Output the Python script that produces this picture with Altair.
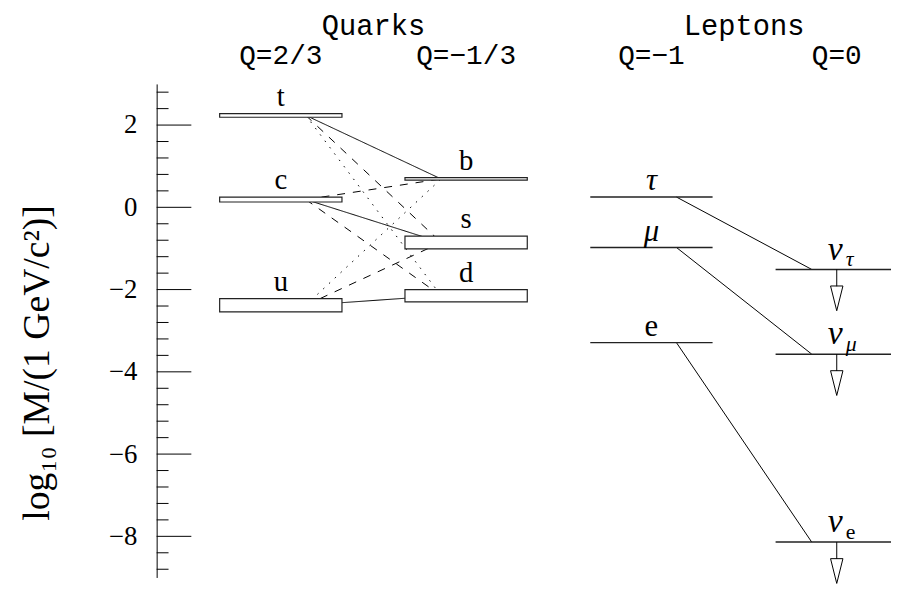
import altair as alt
import pandas as pd

# ---------------- data ----------------
quark_names = ["u", "c", "t", "d", "s", "b"]
quark_column = [0, 0, 0, 1, 1, 1]
quark_low = [-2.54, 0.13, 2.19, -2.30, -1.01, 0.66]
quark_high = [-2.22, 0.25, 2.28, -2.00, -0.70, 0.72]

mix_up = ["t", "t", "t", "c", "c", "c", "u", "u", "u"]
mix_down = ["b", "s", "d", "b", "s", "d", "b", "s", "d"]
mix_style = ["solid", "dashed", "dotted", "dashed", "solid", "dashed", "dotted", "dashed", "solid"]

lepton_names = ["τ", "μ", "e"]
lepton_mass = [0.25, -0.976, -3.29]
neutrino_sub = ["τ", "μ", "e"]
neutrino_limit = [-1.51, -3.57, -8.14]

header_text = ["Quarks", "Leptons"]
header_pos = [0.5, 2.5]
charge_text = ["Q=2/3", "Q=−1/3", "Q=−1", "Q=0"]
charge_col = [0, 1, 2, 3]

major_ticks = [-8, -6, -4, -2, 0, 2]
minor_ticks = [round(k * 0.4, 1) for k in range(-22, 8) if k % 5 != 0]

# ---------------- tables ----------------
HALF = 0.33     # half width of a level
OFF = 0.135     # where connecting lines meet a level

quarks = pd.DataFrame({"name": quark_names, "col": quark_column,
                       "lo": quark_low, "hi": quark_high})
quarks["x1"] = quarks["col"] - HALF
quarks["x2"] = quarks["col"] + HALF
quarks["mid"] = (quarks["lo"] + quarks["hi"]) / 2
qmid = dict(zip(quarks["name"], quarks["mid"]))

mix = pd.DataFrame({
    "x": [0 + OFF] * len(mix_up),
    "y": [qmid[u] for u in mix_up],
    "x2": [1 - OFF] * len(mix_up),
    "y2": [qmid[d] for d in mix_down],
    "style": mix_style,
})

leptons = pd.DataFrame({"name": lepton_names, "mass": lepton_mass,
                        "col": [2] * 3})
leptons["x1"] = leptons["col"] - HALF
leptons["x2"] = leptons["col"] + HALF
leptons["italic"] = leptons["name"] != "e"

neutrinos = pd.DataFrame({"sub": neutrino_sub, "lim": neutrino_limit,
                          "col": [3] * 3})
neutrinos["x1"] = neutrinos["col"] - HALF
neutrinos["x2"] = neutrinos["col"] + HALF
neutrinos["italic"] = neutrinos["sub"] != "e"

lep_links = pd.DataFrame({"x": [2 + OFF] * 3, "y": lepton_mass,
                          "x2": [3 - OFF] * 3, "y2": neutrino_limit})

headers = pd.DataFrame({"text": header_text, "x": header_pos})
charges = pd.DataFrame({"text": charge_text, "x": charge_col})
majors = pd.DataFrame({"v": major_ticks})
minors = pd.DataFrame({"v": minor_ticks})

# ---------------- scales ----------------
xs = alt.Scale(domain=[-0.67, 3.25], nice=False, zero=False)
ys = alt.Scale(domain=[-9, 3], nice=False, zero=False)
SERIF = "Liberation Serif"
MONO = "Liberation Mono"

y_axis = alt.Axis(values=major_ticks, grid=False, tickSize=0, ticks=False,
                  labelFont=SERIF, labelFontSize=27, labelColor="black",
                  labelPadding=20, domainColor="black", domainWidth=1,
                  title="log₁₀ [M/(1 GeV/c²)]", titleFont=SERIF,
                  titleFontSize=38, titleFontWeight="normal", titleColor="black",
                  titleAngle=270, titleAlign="center", titleBaseline="alphabetic",
                  titleX=-109, titleY=281)


def X(f):
    return alt.X(f, type="quantitative", scale=xs, axis=None)


def Y(f):
    return alt.Y(f, type="quantitative", scale=ys, axis=y_axis)


major_layer = alt.Chart(majors).mark_rule(color="black", strokeWidth=1).encode(
    y=Y("v"), x=alt.value(0), x2=alt.value(35))
minor_layer = alt.Chart(minors).mark_rule(color="black", strokeWidth=1).encode(
    y=Y("v"), x=alt.value(0), x2=alt.value(12))

mix_layer = alt.Chart(mix).mark_rule(color="black", strokeWidth=1).encode(
    x=X("x"), y=Y("y"), x2="x2", y2="y2",
    strokeDash=alt.StrokeDash("style:N", legend=None,
                              scale=alt.Scale(domain=["solid", "dashed", "dotted"],
                                              range=[[1, 0], [8, 8], [1.5, 6.5]])))

quark_bars = alt.Chart(quarks).mark_rect(fill="white", stroke="#222", strokeWidth=1.2).encode(
    x=X("x1"), x2="x2", y=Y("lo"), y2="hi")

quark_text = alt.Chart(quarks).mark_text(font=SERIF, fontSize=29, baseline="alphabetic",
                                         align="center", dy=-8, color="black").encode(
    x=X("col"), y=Y("hi"), text="name")

lepton_lines = alt.Chart(leptons).mark_rule(color="#222", strokeWidth=1.5).encode(
    x=X("x1"), x2="x2", y=Y("mass"))
nu_lines = alt.Chart(neutrinos).mark_rule(color="#222", strokeWidth=1.5).encode(
    x=X("x1"), x2="x2", y=Y("lim"))

lep_link_layer = alt.Chart(lep_links).mark_rule(color="black", strokeWidth=1).encode(
    x=X("x"), y=Y("y"), x2="x2", y2="y2")

lep_text_it = alt.Chart(leptons).transform_filter("datum.italic").mark_text(
    font=SERIF, fontSize=31, fontStyle="italic", baseline="alphabetic", align="center",
    dy=-7, color="black").encode(x=X("col"), y=Y("mass"), text="name")
lep_text_up = alt.Chart(leptons).transform_filter("!datum.italic").mark_text(
    font=SERIF, fontSize=31, baseline="alphabetic", align="center",
    dy=-7, color="black").encode(x=X("col"), y=Y("mass"), text="name")

nu_text = alt.Chart(neutrinos).mark_text(
    font=SERIF, fontSize=34, fontStyle="italic", baseline="alphabetic", align="right",
    dx=6, dy=-10, color="black").encode(x=X("col"), y=Y("lim"), text=alt.value("ν"))
nu_sub_it = alt.Chart(neutrinos).transform_filter("datum.italic").mark_text(
    font=SERIF, fontSize=22, fontStyle="italic", baseline="alphabetic", align="left",
    dx=9, dy=-3, color="black").encode(x=X("col"), y=Y("lim"), text="sub")
nu_sub_up = alt.Chart(neutrinos).transform_filter("!datum.italic").mark_text(
    font=SERIF, fontSize=22, baseline="alphabetic", align="left",
    dx=9, dy=-3, color="black").encode(x=X("col"), y=Y("lim"), text="sub")

stems = alt.Chart(neutrinos).mark_rule(color="black", strokeWidth=1, y2Offset=17).encode(
    x=X("col"), y=Y("lim"), y2="lim")
heads = alt.Chart(neutrinos).mark_point(
    shape="M -0.5 -1 L 0.5 -1 L 0 1 Z", size=625, filled=False,
    stroke="black", strokeWidth=1, opacity=1, yOffset=29.2).encode(
    x=X("col"), y=Y("lim"))

header_layer = alt.Chart(headers).mark_text(
    font=MONO, fontSize=29, baseline="alphabetic", align="center", color="black").encode(
    x=X("x"), y=alt.value(-49), text="text")
charge_layer = alt.Chart(charges).mark_text(
    font=MONO, fontSize=28, baseline="alphabetic", align="center", color="black").encode(
    x=X("x"), y=alt.value(-20), text="text")

chart = alt.layer(
    major_layer, minor_layer, mix_layer, quark_bars, quark_text,
    lep_link_layer, lepton_lines, nu_lines, lep_text_it, lep_text_up,
    nu_text, nu_sub_it, nu_sub_up, stems, heads, header_layer, charge_layer,
).properties(
    width=733, height=498,
    padding={"left": 150, "top": 74, "right": 8, "bottom": 8},
    autosize=alt.AutoSizeParams(type="none"),
).configure_view(stroke=None)

chart.save("out.html", embed_options={"renderer": "svg", "actions": False})
